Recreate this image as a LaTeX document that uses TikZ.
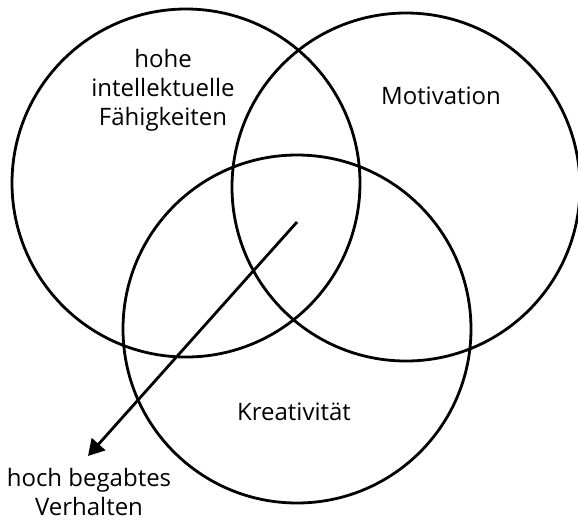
\documentclass[tikz,border=0pt]{standalone}
\usepackage{fontspec}
\setmainfont{Open Sans}
\usetikzlibrary{arrows.meta}

\tikzset{
  ring/.style={draw=black,line width=1.4pt,circle,minimum size=174pt,inner sep=0pt},
  lbl/.style={font=\fontsize{12}{14.5}\selectfont,align=center,inner sep=0pt}
}

\begin{document}
\begin{tikzpicture}[x=0.5pt,y=-0.5pt,>={Triangle[length=8pt,width=9pt]}]
\useasboundingbox (0,0) rectangle (578,521);
% the three rings
\node[ring] (intel) at (186,183) {};
\node[ring] (motiv) at (406,187) {};
\node[ring] (kreat) at (297,329) {};
% labels
\node[lbl] (intel_txt) at (163,90) {hohe\\intellektuelle\\Fähigkeiten};
\node[lbl] (motiv_txt) at (441,96) {Motivation};
\node[lbl] (kreat_txt) at (294,412) {Kreativität};
\node[lbl] (verh_txt) at (89,492) {hoch begabtes\\Verhalten};
% arrow out of the common part
\coordinate (core) at (297,222);
\coordinate (tip) at (88,456);
\draw[->,line width=1.4pt] (core) -- (tip);
\end{tikzpicture}
\end{document}
